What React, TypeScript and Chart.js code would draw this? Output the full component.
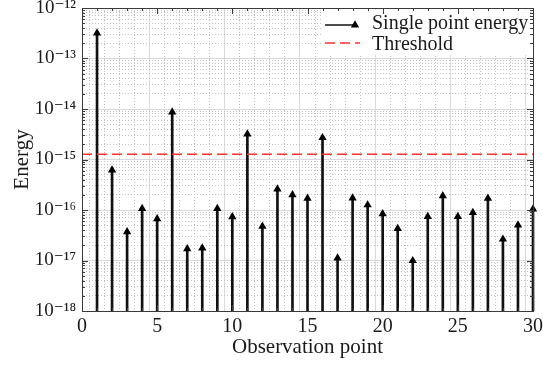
import React, { useEffect, useRef } from "react";
import { Chart, registerables } from "chart.js";

Chart.register(...registerables);

// ---------- data ----------
const observationPoints = [
  1, 2, 3, 4, 5, 6, 7, 8, 9, 10, 11, 12, 13, 14, 15, 16, 17, 18, 19, 20, 21, 22,
  23, 24, 25, 26, 27, 28, 29, 30,
];
const singlePointEnergy = [
  3.2e-13, 6.2e-16, 3.7e-17, 1.07e-16, 6.7e-17, 8.7e-15, 1.7e-17, 1.77e-17,
  1.07e-16, 7.3e-17, 3.2e-15, 4.75e-17, 2.6e-16, 2.0e-16, 1.7e-16, 2.7e-15,
  1.12e-17, 1.72e-16, 1.26e-16, 8.4e-17, 4.3e-17, 9.9e-18, 7.4e-17, 1.9e-16,
  7.4e-17, 8.9e-17, 1.7e-16, 2.64e-17, 5.05e-17, 1.04e-16,
];
const thresholdEnergy = 1.27e-15;
const xRange = [0, 30];
const xMajorTicks = [0, 5, 10, 15, 20, 25, 30];
const yDecadeExponents = [-18, -17, -16, -15, -14, -13, -12];
const seriesLabels = ["Single point energy", "Threshold"];
const xAxisTitle = "Observation point";
const yAxisTitle = "Energy";

// ---------- style ----------
const FONT = '"Liberation Serif", "Times New Roman", "DejaVu Serif", serif';
const TEXT = "#1a1a1a";
const AXIS = "#3a3a3a";
const MAJOR_GRID = "#dadada";
const MINOR_GRID = "#c2c2c2";
const STEM = "#111111";
const RED = "#ff3030";

const SUP: Record<string, string> = {
  "-": "\u207B",
  "0": "\u2070",
  "1": "\u00B9",
  "2": "\u00B2",
  "3": "\u00B3",
  "4": "\u2074",
  "5": "\u2075",
  "6": "\u2076",
  "7": "\u2077",
  "8": "\u2078",
  "9": "\u2079",
};
const sup = (s: string) =>
  s
    .split("")
    .map((c) => SUP[c] ?? c)
    .join("");

function triangle(ctx: CanvasRenderingContext2D, x: number, y: number, r: number) {
  ctx.beginPath();
  ctx.moveTo(x, y - r);
  ctx.lineTo(x + r * Math.sin((2 * Math.PI) / 3), y - r * Math.cos((2 * Math.PI) / 3));
  ctx.lineTo(x + r * Math.sin((4 * Math.PI) / 3), y - r * Math.cos((4 * Math.PI) / 3));
  ctx.closePath();
  ctx.fill();
}

const framePlugin = {
  id: "frameAndLegend",
  afterDraw(chart: any) {
    const ctx: CanvasRenderingContext2D = chart.ctx;
    const ca = chart.chartArea;
    const ds = chart.data.datasets;

    // legend (inside, top-right)
    ctx.save();
    ctx.fillStyle = "#ffffff";
    ctx.fillRect(ca.right - 210, ca.top + 2, 206, 45);
    ctx.font = `20px ${FONT}`;
    ctx.fillStyle = TEXT;
    ctx.textAlign = "left";
    ctx.textBaseline = "alphabetic";
    // row 1
    const y1 = ca.top + 17;
    ctx.strokeStyle = STEM;
    ctx.lineWidth = 1.5;
    ctx.beginPath();
    ctx.moveTo(ca.right - 208, y1);
    ctx.lineTo(ca.right - 176, y1);
    ctx.stroke();
    ctx.fillStyle = "#000";
    triangle(ctx, ca.right - 178, y1, 4.8);
    ctx.fillStyle = TEXT;
    ctx.fillText(ds[1].label, ca.right - 161, ca.top + 21);
    // row 2
    const y2 = ca.top + 35;
    ctx.strokeStyle = RED;
    ctx.lineWidth = 1.5;
    ctx.setLineDash([10, 5]);
    ctx.beginPath();
    ctx.moveTo(ca.right - 208, y2);
    ctx.lineTo(ca.right - 173, y2);
    ctx.stroke();
    ctx.setLineDash([]);
    ctx.fillText(ds[2].label, ca.right - 161, ca.top + 42);
    ctx.restore();

    // inner ticks
    ctx.save();
    ctx.strokeStyle = AXIS;
    ctx.lineWidth = 1;
    const ys = chart.scales.y;
    ys.ticks.forEach((t: any) => {
      const p = Math.round(ys.getPixelForValue(t.value)) + 0.5;
      const len = t.major ? 6 : 3;
      ctx.beginPath();
      ctx.moveTo(ca.left, p);
      ctx.lineTo(ca.left + len, p);
      ctx.moveTo(ca.right, p);
      ctx.lineTo(ca.right - len, p);
      ctx.stroke();
    });
    const xs = chart.scales.x;
    xs.ticks.forEach((t: any) => {
      const p = Math.round(xs.getPixelForValue(t.value)) + 0.5;
      const len = t.major ? 6 : 3;
      ctx.beginPath();
      ctx.moveTo(p, ca.bottom);
      ctx.lineTo(p, ca.bottom - len);
      ctx.moveTo(p, ca.top);
      ctx.lineTo(p, ca.top + len);
      ctx.stroke();
    });
    // box
    ctx.strokeRect(
      Math.round(ca.left) + 0.5,
      Math.round(ca.top) + 0.5,
      Math.round(ca.right - ca.left),
      Math.round(ca.bottom - ca.top)
    );
    ctx.restore();
  },
};

export default function App() {
  const ref = useRef<HTMLCanvasElement | null>(null);

  useEffect(() => {
    document.body.style.margin = "0";
    if (!ref.current) return;
    Chart.defaults.font.family = FONT;
    Chart.defaults.color = TEXT;

    const stems = observationPoints.map((x, i) => ({ x, y: singlePointEnergy[i] }));
    const yMin = Math.pow(10, yDecadeExponents[0]);
    const yMax = Math.pow(10, yDecadeExponents[yDecadeExponents.length - 1]);

    const gridColor = (c: any) => (c.tick && c.tick.major ? MAJOR_GRID : MINOR_GRID);
    const gridDash = (c: any) => (c.tick && !c.tick.major ? [1, 2] : []);

    const chart = new Chart(ref.current, {
      type: "bar",
      data: {
        datasets: [
          {
            type: "bar",
            label: "stems",
            data: stems,
            backgroundColor: STEM,
            borderWidth: 0,
            barThickness: 2,
            clip: false,
            order: 3,
          } as any,
          {
            type: "scatter",
            label: seriesLabels[0],
            data: stems,
            pointStyle: "triangle",
            pointRadius: 4.8,
            pointBackgroundColor: "#000",
            pointBorderColor: "#000",
            pointBorderWidth: 0,
            clip: false,
            order: 2,
          } as any,
          {
            type: "line",
            label: seriesLabels[1],
            data: [
              { x: xRange[0], y: thresholdEnergy },
              { x: xRange[1], y: thresholdEnergy },
            ],
            borderColor: RED,
            borderWidth: 1.5,
            borderDash: [10, 5],
            pointRadius: 0,
            fill: false,
            order: 1,
          } as any,
        ],
      },
      options: {
        animation: false,
        responsive: false,
        events: [],
        layout: { padding: { top: 8, right: 10, left: 0, bottom: 0 } },
        plugins: { legend: { display: false }, tooltip: { enabled: false } },
        scales: {
          x: {
            type: "linear",
            min: xRange[0],
            max: xRange[1],
            offset: false,
            afterBuildTicks: (s: any) => {
              const t: any[] = [];
              for (let v = xRange[0]; v <= xRange[1]; v++) {
                t.push({ value: v, major: xMajorTicks.includes(v) });
              }
              s.ticks = t;
            },
            afterFit: (s: any) => {
              s.height = 54;
              s.paddingLeft = 0;
              s.paddingRight = 0;
            },
            ticks: {
              autoSkip: false,
              maxRotation: 0,
              padding: 4,
              font: { size: 20 },
              color: TEXT,
              callback: (v: any) => (xMajorTicks.includes(v) ? String(v) : ""),
            },
            grid: { drawTicks: false, color: gridColor, lineWidth: 1 },
            border: { display: true, color: AXIS, dash: gridDash },
            title: {
              display: true,
              text: xAxisTitle,
              font: { size: 21 },
              color: TEXT,
              padding: { top: 0, bottom: 5 },
            },
          },
          y: {
            type: "logarithmic",
            min: yMin,
            max: yMax,
            afterBuildTicks: (s: any) => {
              const t: any[] = [];
              for (let k = 0; k < yDecadeExponents.length - 1; k++) {
                const d = Math.pow(10, yDecadeExponents[k]);
                for (let m = 1; m <= 9; m++) t.push({ value: m * d, major: m === 1 });
              }
              t.push({ value: yMax, major: true });
              s.ticks = t;
            },
            afterFit: (s: any) => {
              s.width = 82;
              s.paddingTop = 0;
              s.paddingBottom = 0;
            },
            ticks: {
              autoSkip: false,
              padding: 6,
              font: { size: 19 },
              color: TEXT,
              callback: (v: any, i: number, ticks: any[]) => {
                if (!ticks[i] || !ticks[i].major) return "";
                const e = Math.round(Math.log10(v));
                return "10" + sup(String(e));
              },
            },
            grid: { drawTicks: false, color: gridColor, lineWidth: 1 },
            border: { display: true, color: AXIS, dash: gridDash },
            title: {
              display: true,
              text: yAxisTitle,
              font: { size: 21 },
              color: TEXT,
              padding: { top: 10, bottom: 0 },
            },
          },
        },
      } as any,
      plugins: [framePlugin],
    });

    return () => chart.destroy();
  }, []);

  return (
    <div style={{ position: "absolute", left: 0, top: 0, width: 543, height: 365 }}>
      <canvas ref={ref} width={543} height={365} />
    </div>
  );
}
